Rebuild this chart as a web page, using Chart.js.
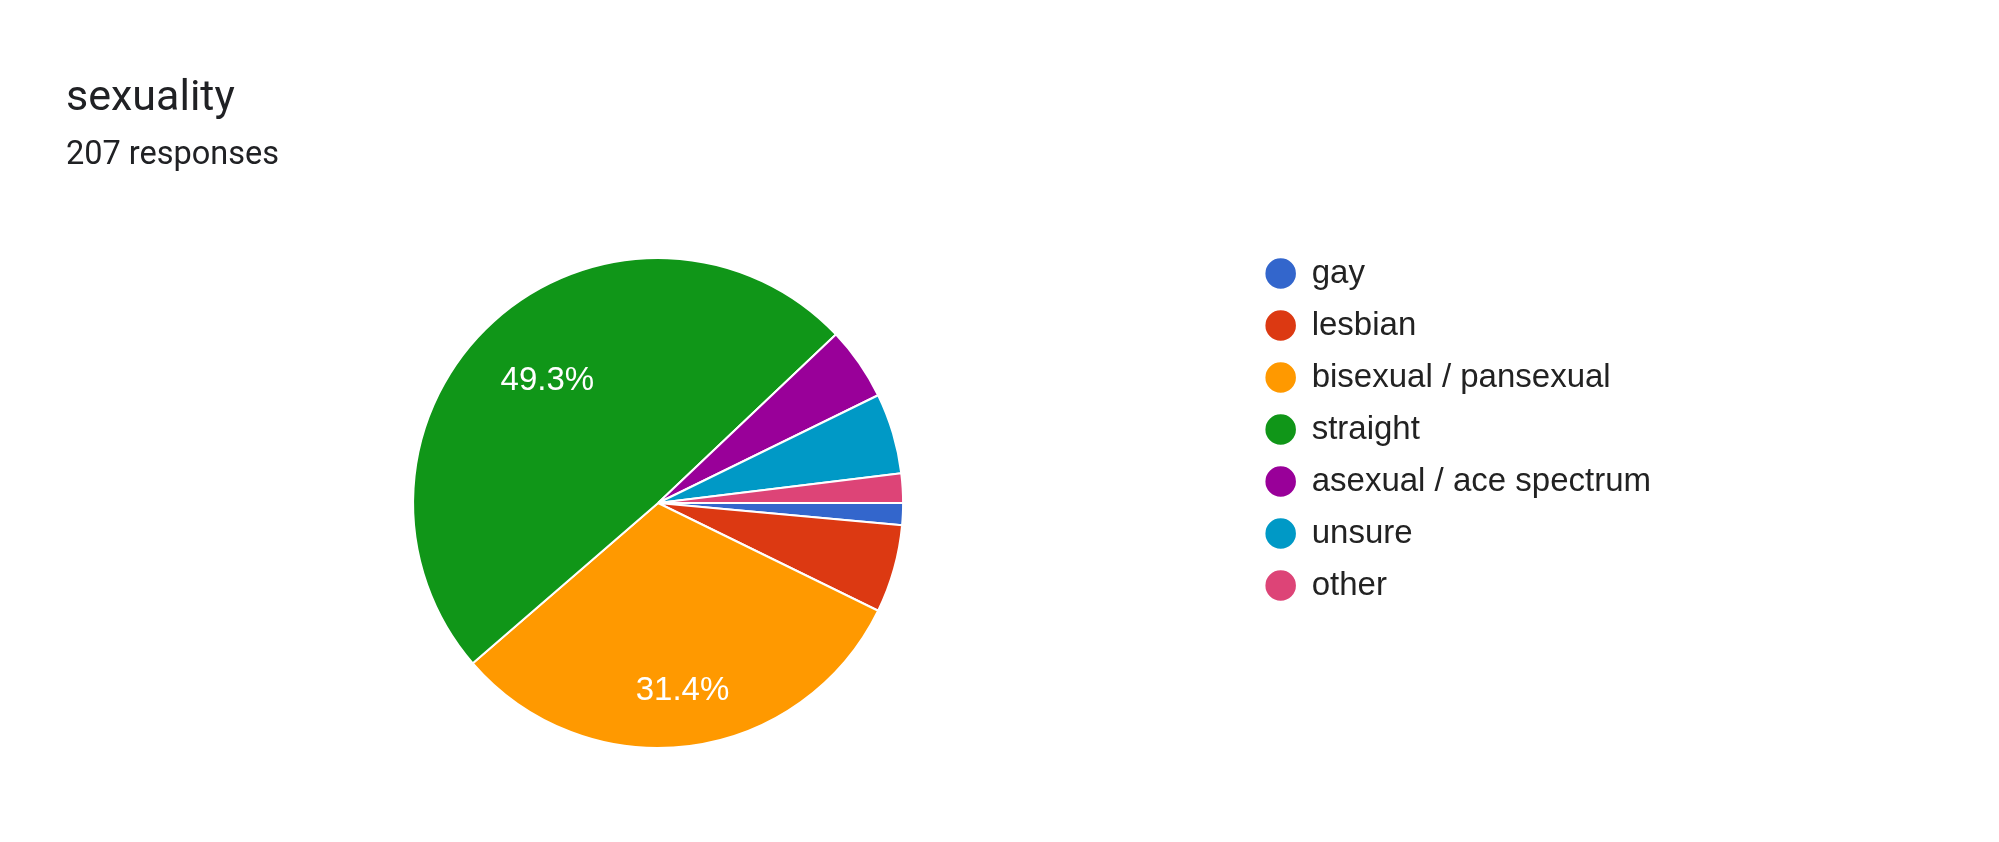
<!DOCTYPE html>
<html>
<head>
<meta charset="utf-8">
<script src="https://cdn.jsdelivr.net/npm/chart.js@4.4.1/dist/chart.umd.min.js"></script>
<style>
  body { margin: 0; background: #ffffff; overflow: hidden; }
  #wrap { position: relative; width: 1999px; height: 842px; }
  #title { position: absolute; left: 66px; top: 74px; font: 43px/1 Roboto, sans-serif; color: #202124; }
  #subtitle { position: absolute; left: 66px; top: 137px; font: 32.5px/1 Roboto, sans-serif; color: #202124; }
  #chartBox { position: absolute; left: 0; top: 0; width: 1999px; height: 842px; }
</style>
</head>
<body>
<div id="wrap">
  <div id="chartBox"><canvas id="myChart"></canvas></div>
  <div id="title">sexuality</div>
  <div id="subtitle">207 responses</div>
</div>
<script>
const categories = ['gay', 'lesbian', 'bisexual / pansexual', 'straight', 'asexual / ace spectrum', 'unsure', 'other'];
const responses = [3, 12, 65, 102, 10, 11, 4];
const sliceColors = ['#3366cc', '#dc3912', '#ff9900', '#109618', '#990099', '#0099c6', '#dd4477'];

const labelThreshold = 0.1;
const labelFont = '33px "Liberation Sans", Arial, sans-serif';

// percentage text inside the big slices, like google forms does
const sliceLabels = {
    id: 'sliceLabels',
    afterDatasetsDraw(chart) {
        const ctx = chart.ctx;
        const meta = chart.getDatasetMeta(0);
        const total = responses.reduce((a, b) => a + b, 0);
        ctx.save();
        ctx.font = labelFont;
        ctx.fillStyle = '#ffffff';
        ctx.textAlign = 'center';
        ctx.textBaseline = 'middle';
        meta.data.forEach(function(arc, i) {
            const share = responses[i] / total;
            if (share < labelThreshold) return;
            const p = arc.getProps(['x', 'y', 'startAngle', 'endAngle', 'outerRadius'], true);
            const mid = (p.startAngle + p.endAngle) / 2;
            const text = (share * 100).toFixed(1) + '%';
            const hw = ctx.measureText(text).width / 2 + 14;
            const hh = 12.5;
            const ux = Math.cos(mid);
            const uy = Math.sin(mid);
            // push the label out until the far corner of its box touches 89% of the radius
            const reach = p.outerRadius * 0.89;
            const b = Math.abs(ux) * hw + Math.abs(uy) * hh;
            const c = hw * hw + hh * hh - reach * reach;
            const d = -b + Math.sqrt(b * b - c);
            ctx.fillText(text, p.x + ux * d, p.y + uy * d);
        });
        ctx.restore();
    }
};

const myChart = new Chart(document.getElementById('myChart'), {
    type: 'pie',
    data: {
        labels: categories,
        datasets: [{
            data: responses,
            backgroundColor: sliceColors,
            borderColor: '#ffffff',
            borderWidth: 2
        }]
    },
    plugins: [sliceLabels],
    options: {
        responsive: true,
        maintainAspectRatio: false,
        animation: false,
        rotation: 90,
        radius: 245,
        layout: {
            padding: {
                left: 69,
                right: 338,
                top: 238,
                bottom: 74
            }
        },
        plugins: {
            tooltip: {
                enabled: false
            },
            legend: {
                position: 'right',
                align: 'start',
                labels: {
                    usePointStyle: true,
                    pointStyle: 'circle',
                    boxWidth: 29,
                    boxHeight: 23,
                    padding: 19,
                    color: '#222222',
                    font: {
                        family: '"Liberation Sans", Arial, sans-serif',
                        size: 33
                    }
                }
            }
        }
    }
});
</script>
</body>
</html>
